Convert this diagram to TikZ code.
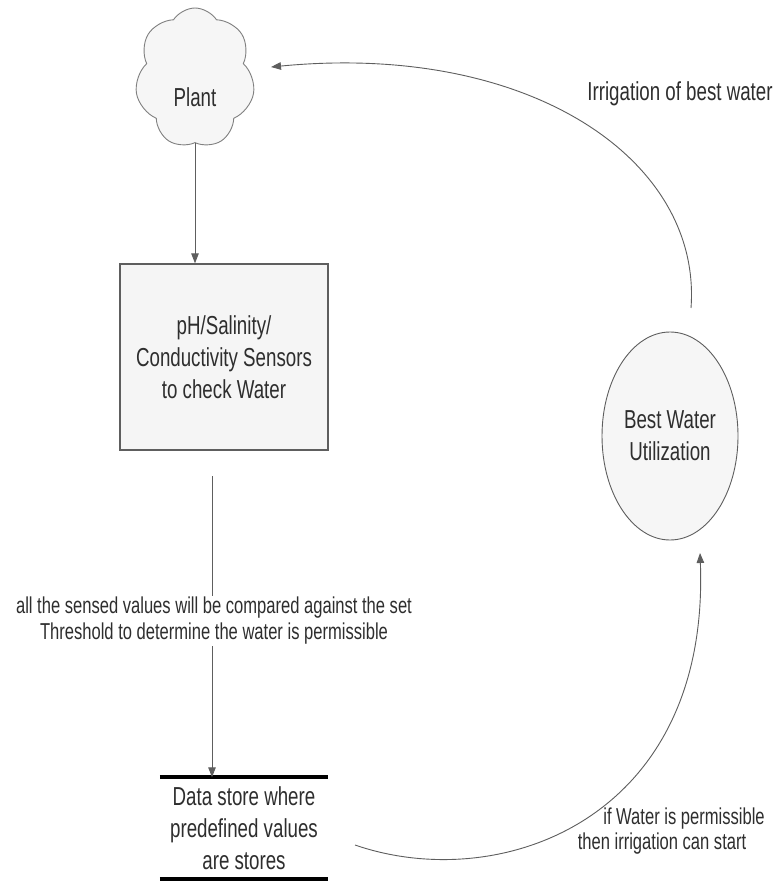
\documentclass[tikz,border=0pt]{standalone}
\usepackage{fontspec}
\setmainfont{Liberation Sans}[FakeStretch=0.72]
\usetikzlibrary{shapes.symbols,shapes.geometric,arrows.meta}
\definecolor{linec}{HTML}{5E5E5E}
\definecolor{textc}{HTML}{2E2E2E}
\definecolor{fillc}{HTML}{F6F6F6}
\definecolor{boxfill}{HTML}{F5F5F5}
\tikzset{
  conn/.style={draw=linec, line width=0.9pt, -{Triangle[length=10pt,width=7.5pt]}},
  txt/.style={text=textc, font=\fontsize{26}{32}\selectfont, align=center, inner sep=1pt},
  smalltxt/.style={text=textc, font=\fontsize{23}{26}\selectfont, align=center, inner sep=1pt},
  bar/.style={draw=black, line width=4pt},
}
\begin{document}
\begin{tikzpicture}[x=1pt,y=-1pt]
\useasboundingbox[fill=white] (0,0) rectangle (782,882);

% Plant cloud
\node[cloud, cloud puffs=7, cloud puff arc=115, aspect=0.85, draw=black!50, fill=fillc, line width=0.9pt,
      minimum width=120pt, minimum height=140pt, inner sep=0pt, shape border rotate=10] (plant) at (195,78) {};
\node[txt] (plantlbl) at (195,97) {Plant};

% Sensors box
\node[rectangle, draw=linec, line width=1.3pt, fill=boxfill,
      minimum width=208pt, minimum height=186pt, txt] (sens) at (224,357)
      {pH/Salinity/\\Conductivity Sensors\\to check Water};

% Data store
\node[minimum width=168pt, minimum height=101pt, txt] (store) at (244,828)
      {Data store where\\predefined values\\are stores};
\draw[bar] (store.north west) -- (store.north east);
\draw[bar] (store.south west) -- (store.south east);

% Best water ellipse
\node[ellipse, draw=linec, line width=0.9pt, fill=fillc,
      minimum width=136pt, minimum height=208pt, inner sep=0pt, txt] (best) at (670,436) {Best Water\\Utilization};

% connector coordinates
\coordinate (c1) at (212,476);
\coordinate (b1) at (691,308);
\coordinate (p1) at (271,67);
\coordinate (s1) at (355,845);
\coordinate (b2) at (700,553);

% connectors
\draw[conn] (plant.south) -- (plant.south |- sens.north);
\draw[conn] (c1) -- (c1 |- store.north);
\draw[conn] (b1) .. controls (702,160) and (530,42) .. (p1);
\draw[conn] (s1) .. controls (500,895) and (710,820) .. (b2);

% labels
\node[smalltxt, fill=white] (lbl1) at (214,621)
  {all the sensed values will be compared against the set\\Threshold to determine the water is permissible};
\node[txt] (lbl2) at (680,94) {Irrigation of best water};
\node[smalltxt] (lbl3a) at (684,819) {if Water is permissible};
\node[smalltxt] (lbl3b) at (662,844) {then irrigation can start};
\end{tikzpicture}
\end{document}
